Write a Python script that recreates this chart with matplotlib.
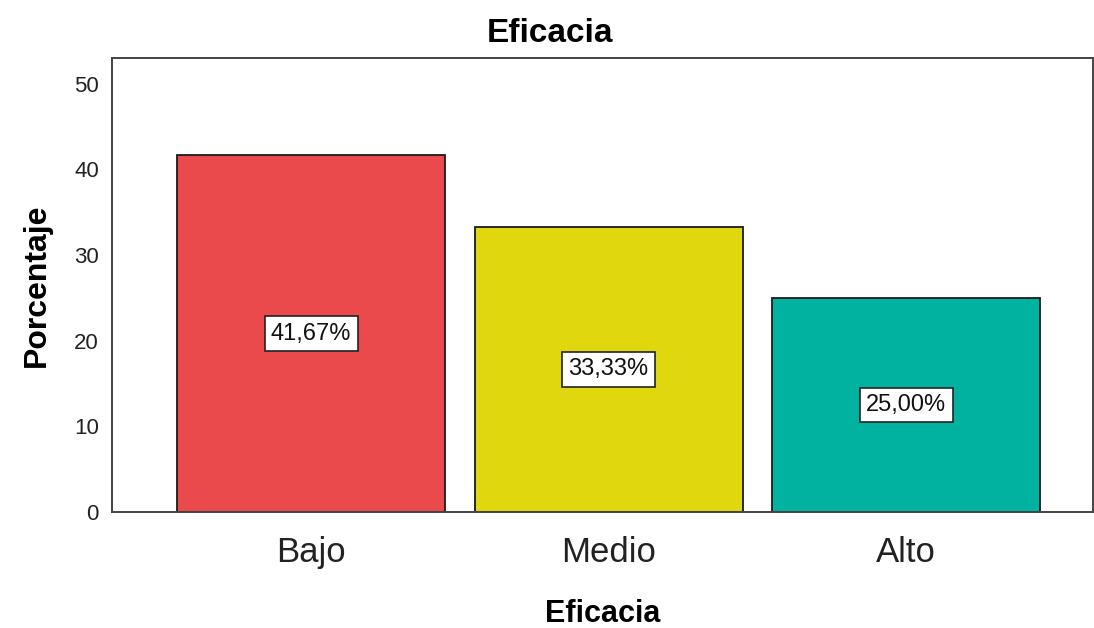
import matplotlib.pyplot as plt

# data
categories = ['Bajo', 'Medio', 'Alto']
percentages = [41.67, 33.33, 25.00]
bar_colors = ['#EB4A4D', '#E1D70F', '#00B29F']
y_ticks = [0, 10, 20, 30, 40, 50]

plt.rcParams['font.family'] = ['Liberation Sans', 'DejaVu Sans']

fig = plt.figure(figsize=(10.94, 6.28), dpi=100)
ax = fig.add_axes([0.1024, 0.1847, 0.897, 0.7229])

x = range(len(categories))
bars = ax.bar(x, percentages, width=0.9, color=bar_colors,
              edgecolor='#1a1a1a', linewidth=1.3, zorder=2)

# value labels in the middle of each bar
for i, v in enumerate(percentages):
    txt = ('%.2f%%' % v).replace('.', ',')
    ax.text(i, v / 2, txt, ha='center', va='center', fontsize=17,
            color='#111111', zorder=3,
            bbox=dict(boxstyle='square,pad=0.27', facecolor='white',
                      edgecolor='#222222', linewidth=1.2))

ax.set_xlim(-0.669, 2.629)
ax.set_ylim(0, 53)
ax.set_xticks(list(x))
ax.set_xticklabels(categories, fontsize=25, color='#222222')
ax.set_yticks(y_ticks)
ax.set_yticklabels([str(t) for t in y_ticks], fontsize=16, color='#222222')
ax.tick_params(axis='both', length=0)
ax.tick_params(axis='y', pad=9.5)
ax.tick_params(axis='x', pad=17)

for s in ax.spines.values():
    s.set_linewidth(1.4)
    s.set_color('#444444')

# title is centred on the figure, not the axes
fig.text(0.503, 1 - 42 / 628, 'Eficacia', ha='center', va='baseline',
         fontsize=24, fontweight='bold')
ax.set_xlabel('Eficacia', fontsize=22, fontweight='bold', labelpad=22)
ax.set_ylabel('Porcentaje', fontsize=23, fontweight='bold', labelpad=16)

fig.savefig('out.png', dpi=100)
